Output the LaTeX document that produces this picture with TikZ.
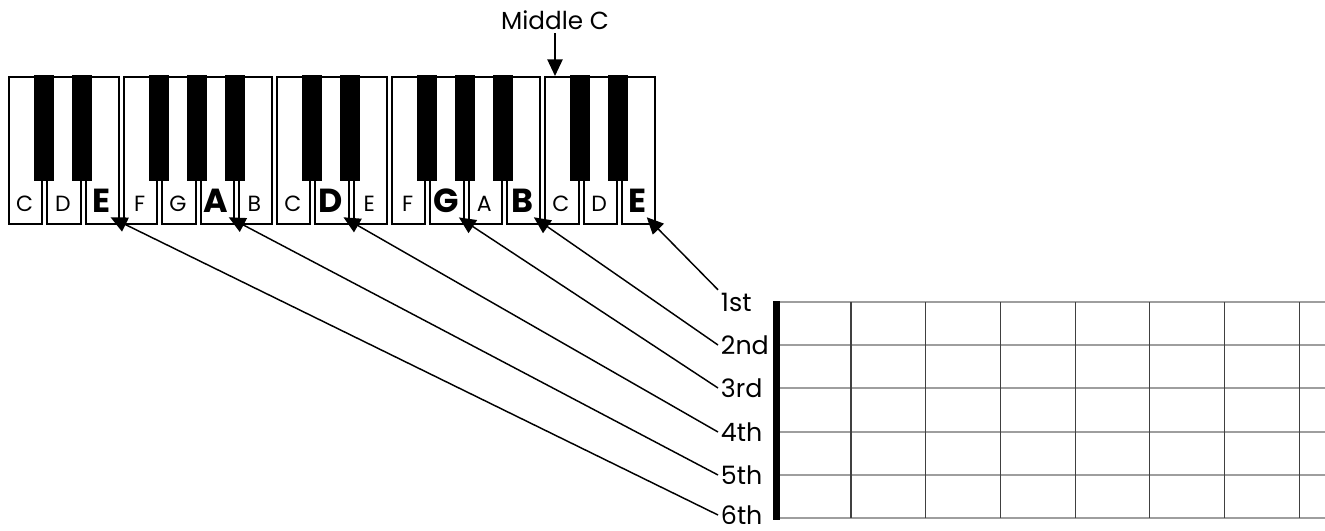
\documentclass[tikz,border=0pt]{standalone}
\usepackage{fontspec}
\setmainfont{Poppins}
\usetikzlibrary{arrows.meta}
\begin{document}
\begin{tikzpicture}[x=0.75pt,y=-0.75pt,
  whitekey/.style={draw, fill=white, line width=1.5pt, minimum width=25pt, minimum height=110.25pt, inner sep=0pt, anchor=north west},
  smalllet/.style={anchor=base, inner sep=0pt, font=\fontsize{16.5}{17}\selectfont},
  biglet/.style={anchor=base, inner xsep=0pt, inner ysep=3pt, font=\fontsize{25}{26}\selectfont\bfseries},
  strlab/.style={anchor=west, inner sep=2pt, font=\fontsize{19}{20}\selectfont},
  conn/.style={line width=1.1pt, -{Triangle[length=12.5pt,width=11.5pt]}},
  stringline/.style={line width=1.2pt, black!38},
  fretline/.style={line width=0.8pt, black!75}]
\useasboundingbox (0,0) rectangle (1325,531);
% white keys
\foreach \i in {0,...,16}{
  \node[whitekey] (k\i) at ({8+\i*38.3},76) {};
}
% black keys
\foreach \i in {0,1,3,4,5,7,8,10,11,12,14,15}{
  \fill ({7+(\i+1)*38.3-1.5-10},75) rectangle ({7+(\i+1)*38.3-1.5+10},181);
}
% small letters
\foreach \i/\l in {0/C,1/D,3/F,4/G,6/B,7/C,9/E,10/F,12/A,14/C,15/D}{
  \node[smalllet] (l\i) at ({24.65+\i*38.3},212) {\l};
}
% big letters (open strings)
\node[biglet] (n6) at ({24.65+2*38.3},213) {E};
\node[biglet] (n5) at ({24.65+5*38.3},213) {A};
\node[biglet] (n4) at ({24.65+8*38.3},213) {D};
\node[biglet] (n3) at ({24.65+11*38.3},213) {G};
\node[biglet] (n2) at ({24.65+13*38.3},213) {B};
\node[biglet] (n1) at ({24.65+16*38.3},213) {E};
% middle C
\node[anchor=base, inner sep=2pt, font=\fontsize{18.5}{20}\selectfont] (mc) at (555,30) {Middle C};
\draw[conn] (mc.south) -- (mc.south |- k14.north);
% fretboard
\foreach \s/\y in {1/302,2/345,3/388,4/432,5/475,6/518}{
  \draw[stringline] (780,\y) -- (1325,\y);
}
\foreach \k in {0,...,6}{
  \draw[fretline] ({851+\k*74.7},302) -- ({851+\k*74.7},518);
}
\fill (773,301) rectangle (780,520);
% string labels
\node[strlab] (s1) at (718,302) {1st};
\node[strlab] (s2) at (718,345) {2nd};
\node[strlab] (s3) at (718,388) {3rd};
\node[strlab] (s4) at (718,432) {4th};
\node[strlab] (s5) at (718,475) {5th};
\node[strlab] (s6) at (718,515) {6th};
% connectors
\draw[conn] (s1.north west) -- (n1.south east);
\draw[conn] (s2.west) -- (n2.south east);
\draw[conn] (s3.west) -- (n3.south east);
\draw[conn] (s4.west) -- (n4.south east);
\draw[conn] (s5.west) -- (n5.south east);
\draw[conn] (s6.west) -- (n6.south east);
\end{tikzpicture}
\end{document}
